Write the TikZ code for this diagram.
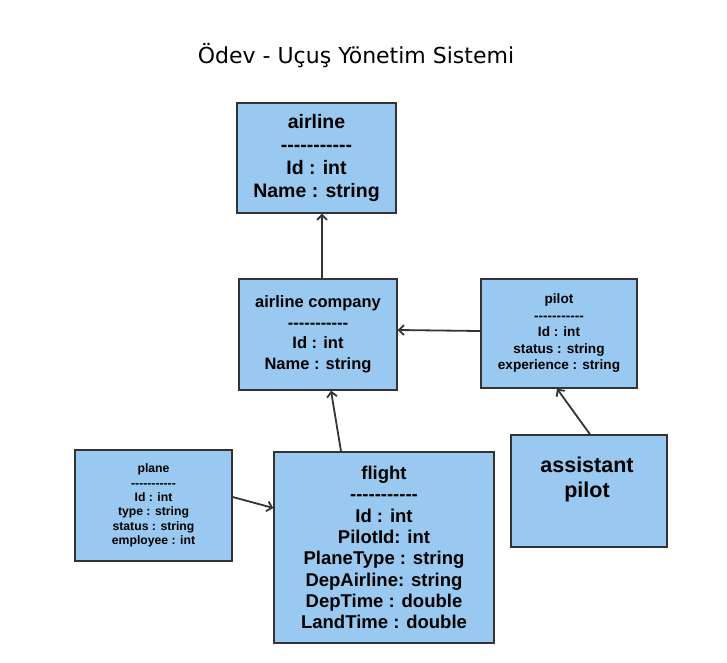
\documentclass[tikz,border=0pt]{standalone}
\usepackage{fontspec}
\setmainfont{Liberation Sans}[Ligatures={NoCommon}]
\newfontfamily\titlefont{DejaVu Sans}
\usetikzlibrary{arrows.meta}
\definecolor{boxfill}{RGB}{153,201,240}
\definecolor{boxline}{RGB}{51,51,51}
\newcommand{\sepline}{-{}-{}-{}-{}-{}-{}-{}-{}-{}-{}-}
\tikzset{
  umlbox/.style={draw=boxline, fill=boxfill, line width=1.4pt, rectangle, inner sep=0pt, align=center, font=\bfseries},
  conn/.style={draw=boxline, line width=1.8pt, -{Straight Barb[length=5pt,width=10pt,line width=1.8pt]}},
}
\begin{document}
\begin{tikzpicture}[x=1pt,y=-1pt]
\useasboundingbox (0,0) rectangle (727,662);
\fill[white] (0,0) rectangle (727,662);
\node[font=\titlefont\fontsize{22}{26}\selectfont] (title) at (356,56) {Ödev - Uçuş Yönetim Sistemi};

% airline
\node[umlbox, minimum width=159pt, minimum height=110pt, font=\bfseries\fontsize{19.5}{23}\selectfont] (airline) at (316.5,158) {airline\\\sepline\\Id : int\\Name : string};
% airline company
\node[umlbox, minimum width=158pt, minimum height=111pt, font=\bfseries\fontsize{16.5}{20.5}\selectfont] (company) at (318,334.5) {airline company\\\sepline\\Id : int\\Name : string};
% pilot
\node[umlbox, minimum width=156pt, minimum height=109pt, font=\bfseries\fontsize{13.6}{16.5}\selectfont] (pilot) at (559,333.5) {pilot\\\sepline\\Id : int\\status : string\\experience : string};
% assistant pilot
\node[umlbox, minimum width=156pt, minimum height=112pt] (assistant) at (589,491) {};
\node[font=\bfseries\fontsize{21.5}{25}\selectfont, align=center] (assistanttext) at (587,479.5) {assistant\\pilot};
% plane
\node[umlbox, minimum width=157pt, minimum height=111pt, font=\bfseries\fontsize{12.2}{14.4}\selectfont] (plane) at (153.5,505.5) {plane\\\sepline\\Id : int\\type : string\\status : string\\employee : int};
% flight
\node[umlbox, minimum width=220pt, minimum height=191pt, font=\bfseries\fontsize{18.5}{21.3}\selectfont] (flight) at (384,547.5) {flight\\\sepline\\Id : int\\PilotId: int\\PlaneType : string\\DepAirline: string\\DepTime : double\\LandTime : double};

% connectors
\draw[conn] (company.north -| 322,0) -- (airline.south -| 322,0);
\draw[conn] (pilot.west |- 0,331) -- (company.east |- 0,330);
\draw[conn] (flight.north -| 341,0) -- (company.south -| 331,0);
\draw[conn] (plane.east |- 0,497) -- (flight.west |- 0,508);
\draw[conn] (assistant.north -| 590,0) -- (pilot.south -| 557,0);
\end{tikzpicture}
\end{document}
